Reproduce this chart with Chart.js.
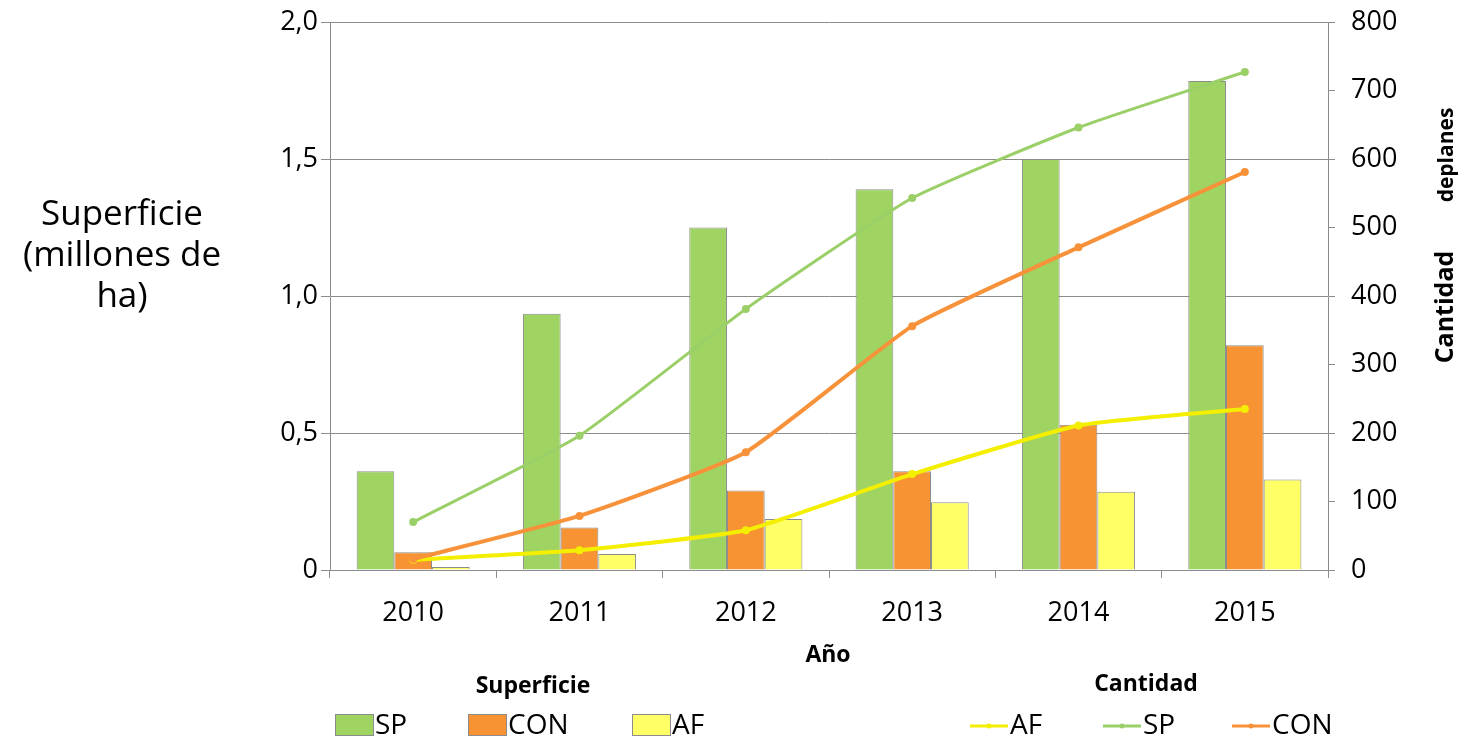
<!DOCTYPE html>
<html>
<head>
  <title>Superficie y Cantidad de planes</title>
  <script src="https://cdn.jsdelivr.net/npm/chart.js"></script>
  <style>
    body {
      margin: 0;
      background-color: #ffffff;
    }
    .wrap {
      width: 1460px;
      height: 741px;
    }
  </style>
</head>
<body>
  <div class="wrap">
    <canvas id="myChart" width="1460" height="741"></canvas>
  </div>

  <script>
    // data
    const years = ['2010', '2011', '2012', '2013', '2014', '2015'];

    // Superficie (millones de ha) - bars, left axis
    const supSP = [0.36, 0.935, 1.25, 1.39, 1.50, 1.785];
    const supCON = [0.065, 0.155, 0.29, 0.36, 0.53, 0.82];
    const supAF = [0.011, 0.058, 0.186, 0.247, 0.286, 0.33];

    // Cantidad de planes - lines, right axis
    const cantAF = [15, 29, 58, 140, 211, 235];
    const cantSP = [70, 196, 381, 543, 646, 727];
    const cantCON = [16, 79, 172, 356, 471, 581];

    const leftTicks = [0, 0.5, 1, 1.5, 2];

    const green = '#9fd462';
    const orange = '#f79332';
    const yellowBar = '#ffff66';
    const greenLine = '#9bcf68';
    const orangeLine = '#f7923a';
    const yellowLine = '#f4ee00';
    const axisGray = '#8c8c8c';
    const font = "'Open Sans', sans-serif";

    Chart.defaults.font.family = font;
    Chart.defaults.color = '#000000';

    // extra text + the two legends, drawn on the canvas
    const extras = {
      id: 'extras',
      afterDraw(chart) {
        const ctx = chart.ctx;
        ctx.save();
        ctx.fillStyle = '#000';
        ctx.textAlign = 'center';
        ctx.textBaseline = 'middle';

        // left title, horizontal, three lines
        ctx.font = "35px " + font;
        ctx.fillText('Superficie', 122, 215);
        ctx.fillText('(millones de', 122, 256);
        ctx.fillText('ha)', 122, 297);

        ctx.font = "bold 23px " + font;
        ctx.fillText('Año', 828, 655);
        ctx.fillText('Superficie', 533, 686);
        ctx.fillText('Cantidad', 1146, 684);

        // right title, rotated
        ctx.save();
        ctx.translate(1446, 307);
        ctx.rotate(-Math.PI / 2);
        ctx.font = "bold 25px " + font;
        ctx.fillText('Cantidad', 0, 0);
        ctx.restore();
        ctx.save();
        ctx.translate(1447, 155);
        ctx.rotate(-Math.PI / 2);
        ctx.font = "bold 21px 'Liberation Sans Narrow', " + font;
        ctx.fillText('deplanes', 0, 0);
        ctx.restore();

        // legend: bars
        ctx.textAlign = 'left';
        ctx.font = "28px " + font;
        const barItems = [
          { x: 335, label: 'SP', color: green },
          { x: 468, label: 'CON', color: orange },
          { x: 632, label: 'AF', color: yellowBar }
        ];
        barItems.forEach(it => {
          ctx.fillStyle = it.color;
          ctx.fillRect(it.x, 714, 38, 21);
          ctx.strokeStyle = axisGray;
          ctx.lineWidth = 1;
          ctx.strokeRect(it.x + 0.5, 714.5, 38, 21);
          ctx.fillStyle = '#000';
          ctx.fillText(it.label, it.x + 40, 726);
        });

        // legend: lines
        const lineItems = [
          { x: 970, label: 'AF', color: yellowLine },
          { x: 1103, label: 'SP', color: greenLine },
          { x: 1232, label: 'CON', color: orangeLine }
        ];
        lineItems.forEach(it => {
          ctx.strokeStyle = it.color;
          ctx.lineWidth = 3;
          ctx.beginPath();
          ctx.moveTo(it.x, 726);
          ctx.lineTo(it.x + 38, 726);
          ctx.stroke();
          ctx.fillStyle = it.color;
          ctx.beginPath();
          ctx.arc(it.x + 19, 726, 2.5, 0, Math.PI * 2);
          ctx.fill();
          ctx.fillStyle = '#000';
          ctx.fillText(it.label, it.x + 40, 726);
        });

        ctx.restore();
      }
    };

    const lineStyle = (color, width) => ({
      type: 'line',
      yAxisID: 'y1',
      borderColor: color,
      backgroundColor: color,
      borderWidth: width,
      pointRadius: 4,
      pointBorderWidth: 0,
      tension: 0.15,
      fill: false,
      order: 0
    });

    const barStyle = (color) => ({
      type: 'bar',
      yAxisID: 'y',
      backgroundColor: color,
      borderColor: axisGray,
      borderWidth: 1,
      borderSkipped: 'bottom',
      categoryPercentage: 0.68,
      barPercentage: 1.0,
      order: 1
    });

    // keep the plot box fixed: 330..1328 x 22..570
    const fixVertical = w => s => {
      s.width = w;
      s.paddingTop = 0;
      s.paddingBottom = 0;
    };

    new Chart(document.getElementById('myChart').getContext('2d'), {
      data: {
        labels: years,
        datasets: [
          Object.assign({ label: 'SP', data: supSP }, barStyle(green)),
          Object.assign({ label: 'CON', data: supCON }, barStyle(orange)),
          Object.assign({ label: 'AF', data: supAF }, barStyle(yellowBar)),
          Object.assign({ label: 'SP ', data: cantSP }, lineStyle(greenLine, 3)),
          Object.assign({ label: 'CON ', data: cantCON }, lineStyle(orangeLine, 4)),
          Object.assign({ label: 'AF ', data: cantAF }, lineStyle(yellowLine, 4))
        ]
      },
      options: {
        responsive: false,
        animation: false,
        layout: { padding: { top: 22, bottom: 0, left: 0, right: 0 } },
        plugins: {
          legend: { display: false },
          tooltip: { enabled: false }
        },
        scales: {
          x: {
            grid: { offset: true, drawOnChartArea: false, color: axisGray, tickLength: 8 },
            border: { color: axisGray },
            ticks: { font: { size: 27 }, padding: 19, color: '#000' },
            afterFit: s => { s.height = 171; s.paddingLeft = 0; s.paddingRight = 0; }
          },
          y: {
            position: 'left',
            min: 0,
            max: 2,
            afterBuildTicks: s => { s.ticks = leftTicks.map(v => ({ value: v })); },
            grid: { color: axisGray, tickLength: 9 },
            border: { color: axisGray },
            ticks: {
              font: { size: 27 },
              padding: 3,
              color: '#000',
              callback: v => v === 0 ? '0' : v.toFixed(1).replace('.', ',')
            },
            afterFit: fixVertical(330)
          },
          y1: {
            position: 'right',
            min: 0,
            max: 800,
            ticks: { stepSize: 100, font: { size: 27 }, padding: 16, color: '#000' },
            grid: { drawOnChartArea: false, color: axisGray, tickLength: 7 },
            border: { color: axisGray },
            afterFit: fixVertical(132)
          }
        }
      },
      plugins: [extras]
    });
  </script>
</body>
</html>
